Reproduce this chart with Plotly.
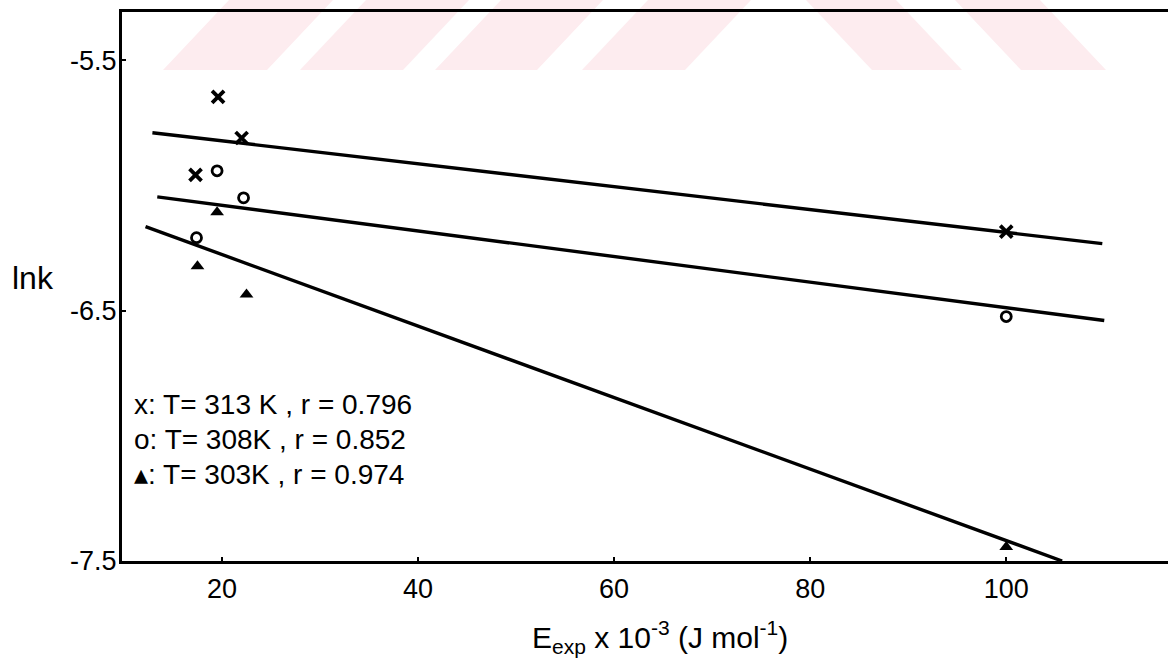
import plotly.graph_objects as go

# ln k against experimental activation energy (E_exp x 10^-3, J/mol)
e_313 = [17.3, 19.6, 22.0, 100.0]
lnk_313 = [-5.958, -5.647, -5.811, -6.185]
e_308 = [17.4, 19.5, 22.2, 100.0]
lnk_308 = [-6.209, -5.942, -6.050, -6.524]
e_303 = [17.5, 19.5, 22.5, 100.0]
lnk_303 = [-6.323, -6.108, -6.436, -7.444]

# least-squares lines, given by their end points
fit_e_313 = [12.9, 109.8]
fit_lnk_313 = [-5.790, -6.233]
fit_e_308 = [13.4, 110.0]
fit_lnk_308 = [-6.046, -6.540]
fit_e_303 = [12.2, 105.7]
fit_lnk_303 = [-6.165, -7.500]

x_ticks = [20, 40, 60, 80, 100]
x_tick_text = ["20", "40", "60", "80", "100"]
y_ticks = [-5.5, -6.5, -7.5]
y_tick_text = ["-5.5", "-6.5", "-7.5"]

key_lines = [
    "x: T= 313 K , r = 0.796",
    "o: T= 308K , r = 0.852",
    "\u25b4: T= 303K , r = 0.974",
]

W, H = 1168, 659
ML, MR, MT, MB = 122, 0, 12, 98
FONT = "Liberation Sans, Arial, DejaVu Sans, sans-serif"

fig = go.Figure()

for fx, fy in [(fit_e_313, fit_lnk_313), (fit_e_308, fit_lnk_308), (fit_e_303, fit_lnk_303)]:
    fig.add_trace(go.Scatter(x=fx, y=fy, mode="lines",
                             line=dict(color="black", width=3.4),
                             showlegend=False, hoverinfo="skip"))

fig.add_trace(go.Scatter(x=e_313, y=lnk_313, mode="markers", showlegend=False,
                         marker=dict(symbol="x-thin", size=12,
                                     line=dict(color="black", width=3.8))))
fig.add_trace(go.Scatter(x=e_308, y=lnk_308, mode="markers", showlegend=False,
                         marker=dict(symbol="circle-open", size=10, color="black",
                                     line=dict(color="black", width=2.8))))
fig.add_trace(go.Scatter(x=e_303, y=lnk_303, mode="markers", showlegend=False,
                         marker=dict(symbol="triangle-up", size=12, color="black")))

# faint striped stamp across the top edge
pw, ph = W - ML - MR, H - MT - MB


def px(x):
    return (x - ML) / pw


def py(y):
    return (H - MB - y) / ph


band_top, band_bot = 0, 70
slant = 66
stamp_colour = "#fdecef"
shapes = []
for x0, x1 in [(163, 267), (300, 403), (435, 537), (582, 685)]:
    path = "M {} {} L {} {} L {} {} L {} {} Z".format(
        px(x0), py(band_bot), px(x1), py(band_bot),
        px(x1 + slant), py(band_top), px(x0 + slant), py(band_top))
    shapes.append(dict(type="path", path=path, xref="paper", yref="paper",
                       fillcolor=stamp_colour, line=dict(width=0), layer="below"))
for x0, x1 in [(806, 896), (955, 1040)]:
    path = "M {} {} L {} {} L {} {} L {} {} Z".format(
        px(x0), py(band_top), px(x1), py(band_top),
        px(x1 + slant), py(band_bot), px(x0 + slant), py(band_bot))
    shapes.append(dict(type="path", path=path, xref="paper", yref="paper",
                       fillcolor=stamp_colour, line=dict(width=0), layer="below"))

annotations = []
for i, txt in enumerate(key_lines):
    annotations.append(dict(text=txt, xref="paper", yref="paper",
                            x=px(132), y=py(404 + 35 * i), xanchor="left", yanchor="middle",
                            showarrow=False, font=dict(family=FONT, size=28, color="black")))
annotations.append(dict(text="lnk", xref="paper", yref="paper", x=px(33), y=py(278),
                        xanchor="center", yanchor="middle", showarrow=False,
                        font=dict(family=FONT, size=32, color="black")))
annotations.append(dict(text="E<sub>exp</sub> x 10<sup>-3</sup> (J mol<sup>-1</sup>)",
                        xref="paper", yref="paper", x=px(660), y=py(637),
                        xanchor="center", yanchor="middle", showarrow=False,
                        font=dict(family=FONT, size=30, color="black")))

fig.update_layout(
    width=W, height=H,
    margin=dict(l=ML, r=MR, t=MT, b=MB),
    paper_bgcolor="white", plot_bgcolor="rgba(0,0,0,0)",
    shapes=shapes, annotations=annotations,
    xaxis=dict(range=[9.8, 116.5], tickvals=x_ticks, ticktext=x_tick_text,
               showgrid=False, zeroline=False, showline=True, linecolor="black",
               linewidth=3, mirror=True, ticks="inside", ticklen=4, tickwidth=2,
               tickcolor="black", ticklabelstandoff=2,
               tickfont=dict(family=FONT, size=27, color="black")),
    yaxis=dict(range=[-7.5, -5.308], tickvals=y_ticks, ticktext=y_tick_text,
               showgrid=False, zeroline=False, showline=True, linecolor="black",
               linewidth=3, ticks="inside", ticklen=4, tickwidth=2,
               tickcolor="black", ticklabelstandoff=-3,
               tickfont=dict(family=FONT, size=27, color="black")),
)

fig.write_html("out.html")
